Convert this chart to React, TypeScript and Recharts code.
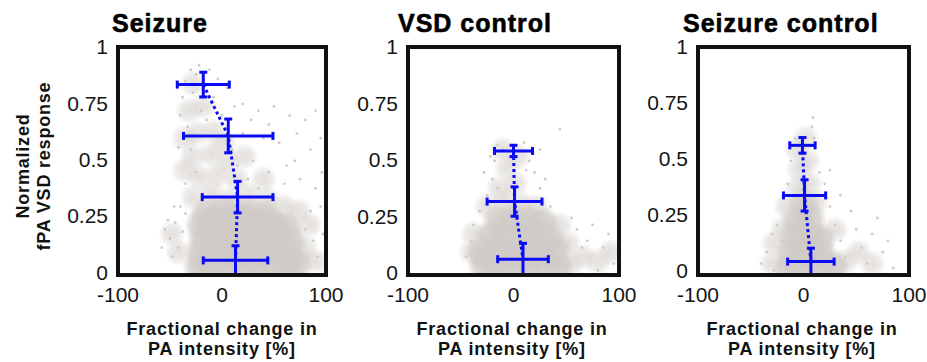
import React from 'react'
import { ScatterChart, Scatter, XAxis, YAxis, ErrorBar } from 'recharts'

const xTicks = [-100, 0, 100]
const yTicks = [0, 0.25, 0.5, 0.75, 1]

const panelTitles = ['Seizure', 'VSD control', 'Seizure control']
const yLabelLines = ['Normalized', 'fPA VSD response']
const xLabelLines = ['Fractional change in', 'PA intensity [%]']

// dense part of the grey cloud (estimated centres)
const seizureCore = [
  [-22, 0.04], [-8, 0.03], [6, 0.05], [20, 0.03], [34, 0.05], [48, 0.04], [62, 0.03], [72, 0.05],
  [-20, 0.1], [-6, 0.11], [8, 0.09], [22, 0.11], [36, 0.1], [50, 0.11], [64, 0.09],
  [-18, 0.16], [-4, 0.17], [10, 0.15], [24, 0.17], [38, 0.16], [52, 0.17], [66, 0.15],
  [-20, 0.22], [-6, 0.23], [8, 0.22], [22, 0.23], [36, 0.21], [50, 0.22], [62, 0.21],
  [-15, 0.27], [0, 0.28], [14, 0.27], [28, 0.27], [42, 0.26],
]
const seizureHaze = [
  [-28, 0.34], [-10, 0.36], [8, 0.33], [26, 0.35], [44, 0.33], [-22, 0.43], [-4, 0.44], [14, 0.42],
  [-28, 0.52], [-10, 0.53], [6, 0.5], [-24, 0.62], [-8, 0.63], [-32, 0.72], [-18, 0.74], [-28, 0.84],
  [-48, 0.18], [-42, 0.1], [80, 0.12], [90, 0.06], [84, 0.22], [60, 0.3], [40, 0.42], [-36, 0.46],
  [22, 0.52], [-36, 0.6], [2, 0.58], [74, 0.28],
]
const seizureSparse = [
  [-55, 0.2], [-50, 0.16], [-45, 0.23], [-42, 0.12], [-48, 0.08], [-38, 0.19], [-35, 0.27], [-40, 0.3],
  [-35, 0.85], [-30, 0.9], [-25, 0.88], [-38, 0.78], [-28, 0.8], [-12, 0.9], [-40, 0.7], [-33, 0.65],
  [-20, 0.72], [-8, 0.78], [0, 0.7], [5, 0.82], [20, 0.75], [35, 0.72], [50, 0.74], [65, 0.7],
  [80, 0.68], [90, 0.72], [95, 0.6], [85, 0.55], [70, 0.5], [55, 0.58], [40, 0.6], [30, 0.5],
  [45, 0.45], [60, 0.4], [75, 0.42], [90, 0.38], [95, 0.3], [85, 0.28], [88, 0.15], [92, 0.08],
  [80, 0.2], [25, 0.42], [35, 0.38], [50, 0.33], [-25, 0.45], [-30, 0.55], [-35, 0.4], [10, 0.55],
  [15, 0.48], [20, 0.62], [-15, 0.68], [-58, 0.12], [-52, 0.24], [-46, 0.3], [97, 0.18], [96, 0.45],
  [62, 0.48], [72, 0.62], [45, 0.66], [28, 0.68], [12, 0.74], [-4, 0.86], [-22, 0.92], [-42, 0.56],
]
const seizureMeans = [
  { x: -18, y: 0.833, ex: 25, ey: 0.055 },
  { x: 6, y: 0.605, ex: 43, ey: 0.075 },
  { x: 15, y: 0.333, ex: 34, ey: 0.07 },
  { x: 13, y: 0.052, ex: 31, ey: 0.065 },
]

const vsdCore = [
  [-28, 0.04], [-14, 0.03], [0, 0.05], [14, 0.04], [28, 0.05], [42, 0.04],
  [-30, 0.1], [-16, 0.11], [-2, 0.1], [12, 0.11], [26, 0.1], [40, 0.11],
  [-22, 0.17], [-8, 0.18], [6, 0.17], [20, 0.18], [34, 0.16],
  [-14, 0.24], [0, 0.25], [14, 0.24], [28, 0.23],
]
const vsdHaze = [
  [-40, 0.1], [-38, 0.18], [54, 0.05], [66, 0.08], [80, 0.06], [92, 0.1], [52, 0.14], [44, 0.22],
  [-25, 0.3], [-8, 0.32], [8, 0.31], [22, 0.3], [-14, 0.38], [2, 0.4], [-6, 0.47], [4, 0.52], [-10, 0.55],
]
const vsdSparse = [
  [-40, 0.15], [-45, 0.08], [-38, 0.22], [-35, 0.05], [-32, 0.28], [-25, 0.35], [-20, 0.42], [-18, 0.5],
  [-15, 0.57], [-10, 0.55], [10, 0.58], [15, 0.5], [20, 0.45], [25, 0.38], [30, 0.42], [44, 0.64],
  [25, 0.55], [55, 0.25], [60, 0.2], [70, 0.15], [75, 0.22], [85, 0.12], [90, 0.18], [95, 0.05],
  [65, 0.12], [80, 0.02], [-15, 0.38], [18, 0.32], [-28, 0.45], [-22, 0.52], [12, 0.46], [35, 0.3],
]
const vsdMeans = [
  { x: 0, y: 0.54, ex: 18, ey: 0.025 },
  { x: 1, y: 0.316, ex: 26, ey: 0.065 },
  { x: 9, y: 0.061, ex: 24, ey: 0.07 },
]

const controlCore = [
  [-14, 0.03], [0, 0.05], [14, 0.04], [28, 0.04], [-12, 0.1], [2, 0.11], [16, 0.1],
  [-8, 0.17], [6, 0.18], [16, 0.16], [-6, 0.24], [6, 0.25], [0, 0.31],
]
const controlHaze = [
  [-30, 0.05], [-28, 0.14], [40, 0.06], [52, 0.1], [65, 0.05], [-16, 0.3], [12, 0.32], [-6, 0.38],
  [6, 0.4], [-4, 0.46], [4, 0.5], [-6, 0.55], [2, 0.6], [30, 0.2], [-20, 0.2],
]
const controlSparse = [
  [-35, 0.1], [-40, 0.05], [-30, 0.18], [-25, 0.22], [-20, 0.15], [-28, 0.02], [25, 0.3], [30, 0.22],
  [35, 0.15], [40, 0.08], [45, 0.28], [50, 0.2], [55, 0.12], [60, 0.05], [65, 0.18], [70, 0.25],
  [75, 0.1], [80, 0.15], [85, 0.03], [15, 0.45], [20, 0.4], [25, 0.46], [-15, 0.4], [-12, 0.5],
  [10, 0.6], [8, 0.65], [9, 0.69], [-8, 0.6], [35, 0.35],
]
const controlMeans = [
  { x: -1, y: 0.56, ex: 12, ey: 0.035 },
  { x: 1, y: 0.336, ex: 20, ey: 0.07 },
  { x: 7, y: 0.04, ex: 22, ey: 0.06 },
]

const toPts = (list: number[][]) => list.map(([x, y]) => ({ x, y }))

const FONT = '"Liberation Sans", Arial, Helvetica, sans-serif'
const BLUE = '#0a0af5'
const GREY = '#cfcac5'
const FRAME = '#111111'
const W = 927
const H = 362
const TOP = 47
const YW = 60
const XH = 30
const BOTTOM_PAD = 57

const panels = [
  { title: panelTitles[0], core: seizureCore, haze: seizureHaze, sparse: seizureSparse, means: seizureMeans, left: 0, width: 350, ml: 58, mr: 24, titleX: 112, labelX: 222 },
  { title: panelTitles[1], core: vsdCore, haze: vsdHaze, sparse: vsdSparse, means: vsdMeans, left: 330, width: 320, ml: 18, mr: 31, titleX: 398, labelX: 512 },
  { title: panelTitles[2], core: controlCore, haze: controlHaze, sparse: controlSparse, means: controlMeans, left: 620, width: 307, ml: 18, mr: 18, titleX: 683, labelX: 802 },
]

const CoreBlob = (props: any) => <circle cx={props.cx} cy={props.cy} r={17} fill="url(#cloudCore)" />
const HazeBlob = (props: any) => <circle cx={props.cx} cy={props.cy} r={14} fill="url(#cloudHaze)" />
const Dot = (props: any) => <circle cx={props.cx} cy={props.cy} r={1.4} fill={GREY} />
const NoMark = () => <g />
const NoTick = () => <g />

const tickStyle = { fontSize: 21, fill: '#151515', fontFamily: FONT }
const frameLine = { stroke: FRAME, strokeWidth: 4, strokeLinecap: 'square' as const }
const innerTick = { stroke: FRAME, strokeWidth: 3 }

type PanelCfg = (typeof panels)[number]

// grey cloud, drawn underneath
function CloudLayer({ p }: { p: PanelCfg }) {
  return (
    <ScatterChart
      width={p.width}
      height={H}
      margin={{ top: TOP, right: p.mr, bottom: BOTTOM_PAD + XH, left: p.ml + YW }}
    >
      <XAxis type="number" dataKey="x" domain={[-100, 100]} allowDataOverflow hide />
      <YAxis type="number" dataKey="y" domain={[0, 1]} allowDataOverflow hide />
      <Scatter data={toPts(p.haze)} shape={HazeBlob} isAnimationActive={false} />
      <Scatter data={toPts(p.core)} shape={CoreBlob} isAnimationActive={false} />
      <Scatter data={toPts(p.sparse)} shape={Dot} isAnimationActive={false} />
    </ScatterChart>
  )
}

// axes box + mean values with error bars, drawn on top
function MeanLayer({ p }: { p: PanelCfg }) {
  return (
    <ScatterChart width={p.width} height={H} margin={{ top: TOP, right: p.mr, bottom: BOTTOM_PAD, left: p.ml }}>
      <XAxis
        type="number"
        dataKey="x"
        domain={[-100, 100]}
        ticks={xTicks}
        axisLine={frameLine}
        tickLine={false}
        tickMargin={6}
        height={XH}
        tick={tickStyle}
      />
      <YAxis
        type="number"
        dataKey="y"
        domain={[0, 1]}
        ticks={yTicks}
        axisLine={frameLine}
        tickLine={false}
        tickMargin={4}
        width={YW}
        tick={tickStyle}
      />
      <XAxis xAxisId="top" orientation="top" mirror type="number" domain={[-100, 100]} ticks={xTicks} axisLine={frameLine} tickLine={innerTick} tickSize={5} tick={NoTick} />
      <YAxis yAxisId="right" orientation="right" mirror type="number" domain={[0, 1]} ticks={yTicks} axisLine={frameLine} tickLine={innerTick} tickSize={5} tick={NoTick} />
      <Scatter
        data={p.means}
        shape={NoMark}
        line={{ stroke: BLUE, strokeWidth: 3, strokeDasharray: '3 3' }}
        isAnimationActive={false}
      >
        <ErrorBar dataKey="ex" direction="x" width={4} stroke={BLUE} strokeWidth={3} />
        <ErrorBar dataKey="ey" direction="y" width={4} stroke={BLUE} strokeWidth={3} />
      </Scatter>
    </ScatterChart>
  )
}

export default function App() {
  const labelProps = {
    textAnchor: 'middle' as const,
    fontFamily: FONT,
    fontWeight: 'bold',
    fontSize: 18,
    letterSpacing: 0.8,
    fill: '#111',
  }
  return (
    <div style={{ position: 'relative', width: W, height: H, background: '#fff', overflow: 'hidden' }}>
      <style>{'html, body { margin: 0; padding: 0; overflow: hidden; }'}</style>
      <svg width={0} height={0} style={{ position: 'absolute' }}>
        <defs>
          <radialGradient id="cloudCore">
            <stop offset="0%" stopColor={GREY} stopOpacity={0.95} />
            <stop offset="60%" stopColor={GREY} stopOpacity={0.75} />
            <stop offset="100%" stopColor={GREY} stopOpacity={0} />
          </radialGradient>
          <radialGradient id="cloudHaze">
            <stop offset="0%" stopColor={GREY} stopOpacity={0.6} />
            <stop offset="55%" stopColor={GREY} stopOpacity={0.4} />
            <stop offset="100%" stopColor={GREY} stopOpacity={0} />
          </radialGradient>
        </defs>
      </svg>
      {panels.map((p) => (
        <div key={`c-${p.title}`} style={{ position: 'absolute', left: p.left, top: 0, zIndex: 1 }}>
          <CloudLayer p={p} />
        </div>
      ))}
      {panels.map((p) => (
        <div key={`m-${p.title}`} style={{ position: 'absolute', left: p.left, top: 0, zIndex: 2 }}>
          <MeanLayer p={p} />
        </div>
      ))}
      <svg width={W} height={H} style={{ position: 'absolute', left: 0, top: 0, zIndex: 3, pointerEvents: 'none' }}>
        {panels.map((p) => (
          <g key={p.title}>
            <text
              x={p.titleX}
              y={32}
              fontFamily={FONT}
              fontWeight="bold"
              fontSize={25}
              letterSpacing={1}
              fill="#000"
              stroke="#000"
              strokeWidth={0.6}
            >
              {p.title}
            </text>
            <text x={p.labelX} y={335} {...labelProps}>
              {xLabelLines[0]}
            </text>
            <text x={p.labelX} y={355} {...labelProps}>
              {xLabelLines[1]}
            </text>
          </g>
        ))}
        <text transform="translate(29,166) rotate(-90)" {...labelProps}>
          {yLabelLines[0]}
        </text>
        <text transform="translate(50,166) rotate(-90)" {...labelProps}>
          {yLabelLines[1]}
        </text>
      </svg>
    </div>
  )
}
